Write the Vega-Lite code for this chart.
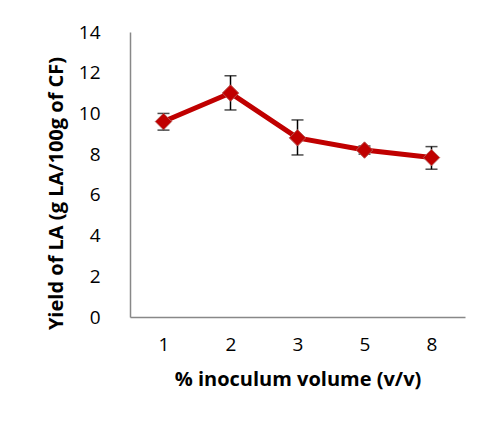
{
  "$schema": "https://vega.github.io/schema/vega-lite/v6.json",
  "autosize": "none",
  "width": 335,
  "height": 285,
  "padding": {"left": 130, "top": 32, "right": 17, "bottom": 113},
  "background": "white",
  "config": {
    "view": {"stroke": null},
    "font": "Open Sans",
    "axis": {
      "grid": false,
      "ticks": false,
      "domainColor": "#888888",
      "domainWidth": 1.5,
      "labelFont": "Open Sans",
      "labelFontSize": 19,
      "labelColor": "#000000",
      "titleFont": "Open Sans",
      "titleFontSize": 20,
      "titleFontWeight": "bold",
      "titleColor": "#000000"
    }
  },
  "data": {
    "values": [
      {"vol": "1", "yield": 9.6, "lo": 9.18, "hi": 10.0},
      {"vol": "2", "yield": 11.0, "lo": 10.17, "hi": 11.85},
      {"vol": "3", "yield": 8.8, "lo": 7.96, "hi": 9.68},
      {"vol": "5", "yield": 8.2, "lo": 8.0, "hi": 8.4},
      {"vol": "8", "yield": 7.83, "lo": 7.26, "hi": 8.37}
    ]
  },
  "encoding": {
    "x": {
      "field": "vol",
      "type": "ordinal",
      "sort": null,
      "scale": {"type": "point", "padding": 0.5},
      "axis": {"title": "% inoculum volume (v/v)", "labelAngle": 0, "labelPadding": 18, "titlePadding": 15}
    }
  },
  "layer": [
    {
      "mark": {"type": "line", "color": "#C00000", "strokeWidth": 5},
      "encoding": {
        "y": {
          "field": "yield",
          "type": "quantitative",
          "scale": {"domain": [0, 14]},
          "axis": {"title": "Yield of LA (g LA/100g of CF)", "values": [0, 2, 4, 6, 8, 10, 12, 14], "labelPadding": 30, "titlePadding": 12, "titleY": 161}
        }
      }
    },
    {
      "mark": {"type": "rule", "color": "black", "strokeWidth": 1.5},
      "encoding": {
        "y": {"field": "lo", "type": "quantitative"},
        "y2": {"field": "hi"}
      }
    },
    {
      "mark": {"type": "tick", "color": "black", "size": 12, "thickness": 1.5},
      "encoding": {"y": {"field": "lo", "type": "quantitative"}}
    },
    {
      "mark": {"type": "tick", "color": "black", "size": 12, "thickness": 1.5},
      "encoding": {"y": {"field": "hi", "type": "quantitative"}}
    },
    {
      "mark": {"type": "point", "shape": "diamond", "filled": true, "size": 270, "color": "#C00000", "stroke": "#B85450", "strokeWidth": 1, "opacity": 1},
      "encoding": {"y": {"field": "yield", "type": "quantitative"}}
    }
  ]
}
